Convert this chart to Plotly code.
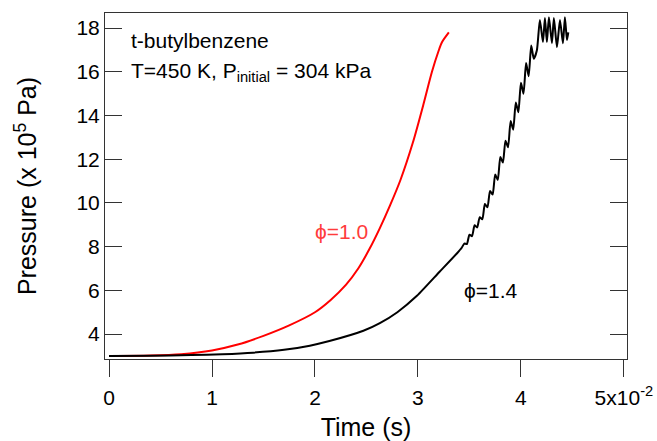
import plotly.graph_objects as go

# phi = 1.0 (red)
t_red = [0.0, 0.004, 0.007, 0.010, 0.0125, 0.015, 0.0175, 0.0200,
         0.0215, 0.0230, 0.0242, 0.0253, 0.0263, 0.0273, 0.0283, 0.0295, 0.0305,
         0.03136, 0.0320, 0.03233, 0.0330]
p_red = [3.00, 3.02, 3.08, 3.25, 3.52, 3.92, 4.40, 5.00,
         5.55, 6.25, 7.00, 7.90, 8.85, 9.90, 11.05, 12.75, 14.45,
         16.00, 16.95, 17.35, 17.80]

# phi = 1.4 (black), with ringing near the top
t_blk = [0.0, 0.004, 0.008, 0.011, 0.014, 0.017, 0.0195, 0.0214, 0.0247, 0.0263,
         0.0280, 0.0299, 0.0321, 0.0338,
         0.03425, 0.0345, 0.03475, 0.0350, 0.03525, 0.0355, 0.03575, 0.0360,
         0.03625, 0.0365, 0.03675, 0.0370, 0.03725, 0.0375, 0.03775, 0.0380,
         0.03825, 0.0385, 0.03875, 0.0390, 0.03925, 0.0395, 0.03975, 0.0400,
         0.04025, 0.0405, 0.04075, 0.0410, 0.04125,
         0.04155, 0.04184, 0.04214, 0.04233, 0.04252, 0.04272, 0.04301,
         0.0432, 0.0435, 0.04379, 0.04408, 0.04427, 0.04447, 0.0446]
p_blk = [3.00, 3.01, 3.04, 3.08, 3.15, 3.28, 3.47, 3.68, 4.15, 4.50,
         5.00, 5.75, 6.85, 7.70,
         7.95, 8.14, 8.12, 8.55, 8.48, 8.98, 8.88, 9.35,
         9.25, 9.95, 9.80, 10.55, 10.38, 11.30, 11.05, 12.10,
         11.85, 12.85, 12.55, 13.75, 13.35, 14.60, 14.15, 15.50,
         15.00, 16.40, 15.80, 17.20, 16.60,
         16.99, 18.37, 17.36, 18.46, 17.36, 18.50, 17.31,
         18.46, 17.13, 18.37, 17.31, 18.50, 17.45, 17.80]

x_ticks = [0.0, 0.01, 0.02, 0.03, 0.04, 0.05]
x_ticktext = ["0", "1", "2", "3", "4", "5x10<sup>-2</sup>"]
y_ticks = [4, 6, 8, 10, 12, 14, 16, 18]

FONT = "Liberation Sans, Arial, sans-serif"
W, H = 657, 441
L, R, T, B = 105, 30, 13, 82
pw, ph = W - L - R, H - T - B


def px(x):
    return (x - L) / pw


def py(y):
    return (H - B - y) / ph


fig = go.Figure()
fig.add_trace(go.Scatter(x=t_red, y=p_red, mode="lines",
                         line=dict(color="#ff0000", width=2, shape="spline", smoothing=0.8)))
fig.add_trace(go.Scatter(x=t_blk, y=p_blk, mode="lines",
                         line=dict(color="#000000", width=2, shape="spline", smoothing=0.6)))

fig.update_layout(
    width=W, height=H,
    margin=dict(l=L, r=R, t=T, b=B, autoexpand=False),
    paper_bgcolor="white", plot_bgcolor="white",
    showlegend=False,
    font=dict(family=FONT, size=21, color="black"),
    xaxis=dict(
        range=[-0.00039, 0.0503], automargin=False,
        tickvals=x_ticks, ticktext=x_ticktext,
        ticks="outside", ticklen=17, tickwidth=1, tickcolor="#333",
        showline=True, linecolor="#333", linewidth=1, mirror=True,
        showgrid=False, zeroline=False,
        ticklabelstandoff=3,
        title=dict(text="Time (s)", standoff=20),
    ),
    yaxis=dict(
        range=[2.86, 18.69], automargin=False,
        tickvals=y_ticks,
        ticks="inside", ticklen=17, tickwidth=1, tickcolor="#333",
        showline=True, linecolor="#333", linewidth=1, mirror="ticks",
        showgrid=False, zeroline=False,
        title=dict(text="Pressure (x 10<sup>5</sup> Pa)", standoff=32),
    ),
)

fig.add_annotation(text="t-butylbenzene", xref="paper", yref="paper",
                   x=px(129), y=py(40), xanchor="left", yanchor="middle",
                   showarrow=False, font=dict(size=21))
fig.add_annotation(text="T=450 K, P<sub>initial</sub> = 304 kPa", xref="paper", yref="paper",
                   x=px(129), y=py(72), xanchor="left", yanchor="middle",
                   showarrow=False, font=dict(size=21))
fig.add_annotation(text="ϕ=1.0", xref="paper", yref="paper",
                   x=px(341), y=py(231), xanchor="center", yanchor="middle",
                   showarrow=False, font=dict(size=21, color="#ff3b3b"))
fig.add_annotation(text="ϕ=1.4", xref="paper", yref="paper",
                   x=px(491), y=py(290), xanchor="center", yanchor="middle",
                   showarrow=False, font=dict(size=21, color="black"))

fig.write_html("out.html")
